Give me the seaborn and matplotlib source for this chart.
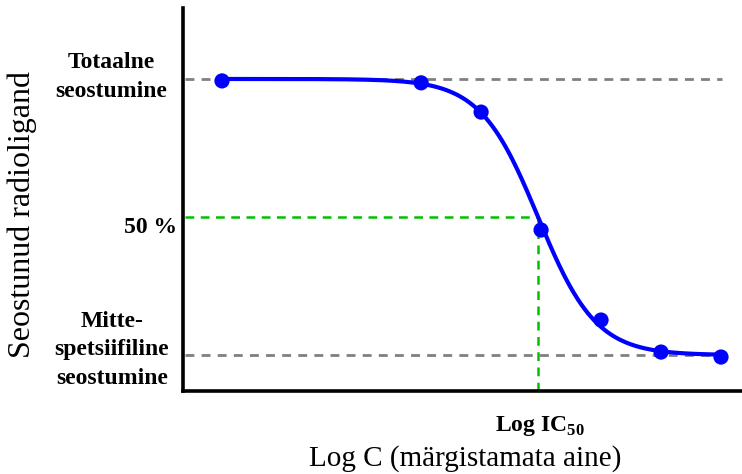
import matplotlib

matplotlib.use("Agg")
import matplotlib.pyplot as plt  # noqa: E402
import numpy as np  # noqa: E402
import pandas as pd  # noqa: E402
import seaborn as sns  # noqa: E402

# measured points: log concentration vs bound radioligand (% of total)
log_c = [-12.32, -9.0, -8.0, -7.0, -6.0, -5.0, -4.0]
bound = [99.3, 98.6, 88.0, 45.3, 12.7, 1.1, -0.7]

# fitted one-site competition curve
fit_top = 100.0
fit_bottom = 0.0
log_ic50 = -7.05
hill = 0.9

total_label = "Totaalne\nseostumine"
half_label = "50 %"
nonspec_label = "Mitte-\nspetsiifiline\nseostumine"
ic50_label = r"Log IC$_{\mathbf{50}}$"
x_label = "Log C (märgistamata aine)"
y_label = "Seostunud radioligand"

sns.set_theme(style="white")
plt.rcParams["font.family"] = ["Liberation Serif", "DejaVu Serif"]
plt.rcParams["text.color"] = "black"
plt.rcParams["mathtext.fontset"] = "custom"
plt.rcParams["mathtext.rm"] = "Liberation Serif"
plt.rcParams["mathtext.bf"] = "Liberation Serif:bold"

W, H = 742, 474
fig = plt.figure(figsize=(W / 100, H / 100), dpi=100)
ax = fig.add_axes([183 / W, 1 - 391 / H, 1 - 183 / W, (391 - 8) / H])

x_lo, x_hi = -12.97, -3.65
y_lo, y_hi = -13.0, 125.7

# reference lines
ax.hlines([fit_top, fit_bottom], x_lo + 0.04, log_c[-1] + 0.02,
          colors="#808080", linestyles=(0, (3.2, 2.6)), linewidth=2.0, zorder=1)
ax.hlines(50, x_lo + 0.04, log_ic50, colors="#00c000",
          linestyles=(0, (3.5, 2.6)), linewidth=1.8, zorder=1)
ax.vlines(log_ic50, y_lo, 50, colors="#00c000",
          linestyles=(0, (3.5, 2.6)), linewidth=1.8, zorder=1)

xs = np.linspace(log_c[0], log_c[-1], 300)
curve = pd.DataFrame({
    "x": xs,
    "y": fit_bottom + (fit_top - fit_bottom) / (1 + 10 ** ((xs - log_ic50) * hill)),
})
sns.lineplot(data=curve, x="x", y="y", color="#0000ff", linewidth=3.0, ax=ax, zorder=2)
pts = pd.DataFrame({"x": log_c, "y": bound})
sns.scatterplot(data=pts, x="x", y="y", color="#0000ff", s=120, edgecolor="none",
                ax=ax, zorder=3)

ax.set_xlim(x_lo, x_hi)
ax.set_ylim(y_lo, y_hi)
ax.set_xticks([])
ax.set_yticks([])
ax.set_xlabel("")
ax.set_ylabel("")
for side in ("top", "right"):
    ax.spines[side].set_visible(False)
for side in ("left", "bottom"):
    ax.spines[side].set_color("black")
    ax.spines[side].set_linewidth(2.6)

bold = dict(fontsize=17, fontweight="bold", color="black", linespacing=1.45)
fig.text(111 / W, 1 - 77 / H, total_label, ha="center", va="center", **bold)
fig.text(177 / W, 1 - 227 / H, half_label, ha="right", va="center", **bold)
fig.text(112 / W, 1 - 350 / H, nonspec_label, ha="center", va="center", **bold)
fig.text(540 / W, 1 - 426 / H, ic50_label, ha="center", va="center",
         fontsize=17, fontweight="bold")
fig.text(465 / W, 1 - 459 / H, x_label, ha="center", va="center", fontsize=21)
fig.text(22 / W, 1 - 214 / H, y_label, ha="center", va="center",
         rotation=90, fontsize=23)

fig.savefig("out.png", dpi=100)
